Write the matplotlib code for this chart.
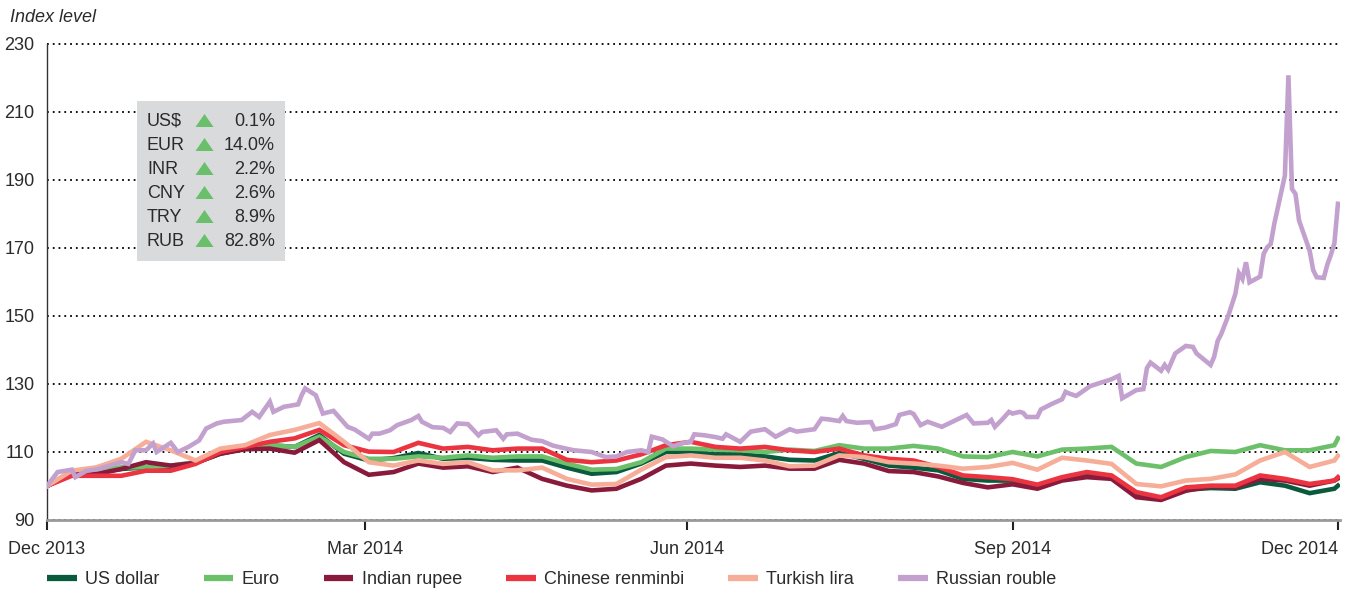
import matplotlib
matplotlib.use('Agg')
import matplotlib.pyplot as plt
import pandas as pd
from matplotlib.lines import Line2D
from matplotlib.patches import Rectangle

plt.rcParams['font.family'] = ['Liberation Sans', 'DejaVu Sans']

# ---------------- data ----------------
weekly_dates = list(pd.date_range('2013-12-31', periods=53, freq='7D')) + [pd.Timestamp('2014-12-31')]

usd = [100, 104, 104, 105, 105.5, 105.7, 106.8, 109.5, 111, 112, 111.5, 115, 109.5, 107.5,
       108.2, 109.7, 108, 108.3, 107.7, 107.5, 107.5, 105.4, 103.6, 104.1, 106.6, 110, 110,
       109.3, 109.3, 108.7, 107.7, 107.5, 109.7, 108, 106, 105.4, 104.6, 102.1, 101.6, 101.6,
       99.7, 102.1, 103.1, 102.6, 97.2, 96.2, 98.9, 99.4, 99.2, 101.1, 100.1, 97.9, 99.2, 100.1]
eur = [100, 104.3, 104.5, 105.5, 105.5, 106, 107, 109.8, 111, 112, 111.5, 114.5, 110, 108,
       108, 108.7, 108.3, 109, 108.3, 108.7, 108.7, 106.6, 104.8, 105, 107, 111, 111,
       110.7, 110.5, 110, 110.7, 110.3, 112, 111, 111, 111.8, 111, 108.7, 108.5, 110,
       108.7, 110.7, 111, 111.5, 106.6, 105.6, 108.5, 110.3, 110, 112, 110.5, 110.5, 112, 114]
inr = [100, 103.5, 103.5, 105, 107, 106, 106.8, 109.5, 110.8, 111, 109.8, 113.5, 107, 103.3,
       104.1, 106.6, 105.4, 105.8, 104.1, 105.4, 102.1, 100.1, 98.7, 99.2, 102.1, 106, 106.6,
       106, 105.6, 106, 105.1, 105.1, 107.7, 106.6, 104.4, 104.1, 102.8, 100.9, 99.6, 100.5,
       99.2, 101.6, 102.6, 102.1, 96.7, 95.9, 98.6, 99.9, 99.6, 102.1, 101.6, 100.1, 101.6, 102.2]
cny = [100, 103, 103, 103, 104.5, 104.5, 106.5, 110, 111.5, 113, 114, 116.5, 112, 110.1,
       110, 112.7, 111, 111.5, 110.5, 111, 111, 107.7, 107, 107.5, 109.3, 112, 113,
       111.5, 111, 111.5, 110.5, 110, 111, 109, 108, 107.5, 105.6, 103.1, 102.6, 102,
       100.4, 102.6, 104.1, 103.1, 98.2, 96.7, 99.6, 100.1, 100.1, 103.1, 102.1, 100.6, 101.6, 102.6]
tr_lira = [100, 104.5, 105.5, 108, 113, 110.5, 107.5, 111, 112, 115, 116.5, 118.5, 113, 107,
           106, 107.5, 106.5, 107, 104.6, 104.6, 105.4, 102.1, 100.4, 100.6, 104.8, 108.5, 109,
           108.3, 108.3, 107.5, 105.8, 106, 109, 108.5, 107, 106.6, 106, 105.1, 105.6, 106.8,
           104.8, 108.3, 107.5, 106.5, 100.6, 99.9, 101.6, 102.1, 103.4, 107.5, 110, 105.6, 107.5, 108.9]

rub_dates = pd.to_datetime([
    '2013-12-31', '2014-01-03', '2014-01-07', '2014-01-08', '2014-01-11', '2014-01-15',
    '2014-01-18', '2014-01-21', '2014-01-23', '2014-01-25', '2014-01-28', '2014-01-30',
    '2014-01-31', '2014-02-04', '2014-02-06', '2014-02-09', '2014-02-12', '2014-02-14',
    '2014-02-17', '2014-02-19', '2014-02-24', '2014-02-27', '2014-03-01', '2014-03-04',
    '2014-03-05', '2014-03-08', '2014-03-12', '2014-03-13', '2014-03-14', '2014-03-17',
    '2014-03-19', '2014-03-22', '2014-03-26', '2014-03-28', '2014-04-01', '2014-04-02',
    '2014-04-04', '2014-04-07', '2014-04-09', '2014-04-13', '2014-04-15', '2014-04-16',
    '2014-04-19', '2014-04-22', '2014-04-24', '2014-04-26', '2014-04-29', '2014-05-02',
    '2014-05-03', '2014-05-07', '2014-05-09', '2014-05-10', '2014-05-13', '2014-05-17',
    '2014-05-20', '2014-05-23', '2014-05-25', '2014-05-29', '2014-06-03', '2014-06-07',
    '2014-06-10', '2014-06-13', '2014-06-17', '2014-06-19', '2014-06-20', '2014-06-23',
    '2014-06-26', '2014-06-29', '2014-07-01', '2014-07-02', '2014-07-05', '2014-07-08',
    '2014-07-10', '2014-07-11', '2014-07-15', '2014-07-18', '2014-07-22', '2014-07-25',
    '2014-07-29', '2014-07-31', '2014-08-05', '2014-08-07', '2014-08-09', '2014-08-12',
    '2014-08-13', '2014-08-14', '2014-08-17', '2014-08-21', '2014-08-22', '2014-08-25',
    '2014-08-28', '2014-08-29', '2014-09-01', '2014-09-02', '2014-09-04', '2014-09-06',
    '2014-09-10', '2014-09-12', '2014-09-17', '2014-09-19', '2014-09-23', '2014-09-24',
    '2014-09-25', '2014-09-27', '2014-09-29', '2014-09-30', '2014-10-02', '2014-10-03',
    '2014-10-04', '2014-10-07', '2014-10-08', '2014-10-11', '2014-10-14', '2014-10-15',
    '2014-10-16', '2014-10-18', '2014-10-22', '2014-10-25', '2014-10-28', '2014-10-30',
    '2014-10-31', '2014-11-04', '2014-11-06', '2014-11-07', '2014-11-08', '2014-11-11',
    '2014-11-12', '2014-11-13', '2014-11-15', '2014-11-18', '2014-11-20', '2014-11-21',
    '2014-11-25', '2014-11-26', '2014-11-27', '2014-11-28', '2014-11-30', '2014-12-02',
    '2014-12-03', '2014-12-04', '2014-12-05', '2014-12-06', '2014-12-09', '2014-12-10',
    '2014-12-11', '2014-12-12', '2014-12-13', '2014-12-16', '2014-12-17', '2014-12-18',
    '2014-12-19', '2014-12-20', '2014-12-23', '2014-12-24', '2014-12-25', '2014-12-27',
    '2014-12-28', '2014-12-29', '2014-12-30', '2014-12-31'])
rub = [100, 104.1, 104.8, 102.6, 104.4, 105.1,
       106.1, 107, 106.5, 110.5, 110.5, 112.5,
       110, 112.7, 110, 111.5, 113.4, 116.9,
       118.4, 118.9, 119.4, 121.8, 120.3, 124.8,
       121.8, 123.3, 124, 126.7, 128.7, 126.7,
       121.3, 122.1, 117.4, 116.6, 113.9, 115.4,
       115.4, 116.4, 117.9, 119.4, 120.6, 118.9,
       117.3, 117.1, 115.9, 118.4, 118.2, 114.9,
       115.9, 116.4, 113.9, 115.2, 115.4, 113.6,
       113.2, 111.9, 111.4, 110.5, 110, 108.5,
       108.7, 110, 110.5, 110, 114.5, 113.7,
       111.7, 112.7, 113, 115.2, 114.9, 114.4,
       113.9, 115.2, 113, 116, 116.7, 114.5,
       116.7, 116, 116.7, 119.8, 119.6, 119.1,
       120.6, 119.1, 118.6, 118.8, 116.7, 117.2,
       118.2, 120.9, 121.7, 121.2, 117.9, 118.9,
       117.4, 118.4, 120.9, 118.4, 118.6, 119.4,
       117.4, 119.5, 121.8, 121.3, 121.8, 121.5,
       120.3, 120.3, 122.5, 124.1, 125.5, 127.7,
       127.2, 126.5, 129.4, 130.4, 131.4, 132.4,
       125.8, 128.2, 128.5, 134.7, 136.3, 133.9,
       135.6, 134.2, 139, 141.2, 140.9, 139,
       135.6, 138, 142.7, 144.7, 150.1, 156.5,
       162.6, 160.9, 165.8, 159.9, 161.6, 168.3,
       170.2, 171.2, 177.1, 191.3, 220.8, 187.4,
       185.9, 178.1, 169.2, 163.5, 161.4, 161.2,
       165.1, 168, 171.4, 183]

series_names = ['US dollar', 'Euro', 'Indian rupee', 'Chinese renminbi', 'Turkish lira', 'Russian rouble']
series_colors = ['#0a5a3e', '#6cc06a', '#8a1a3c', '#ec3340', '#f6ae98', '#c3a1ce']

inset_codes = ['US$', 'EUR', 'INR', 'CNY', 'TRY', 'RUB']
inset_changes = [0.1, 14.0, 2.2, 2.6, 8.9, 82.8]

y_ticks = [90, 110, 130, 150, 170, 190, 210, 230]
x_tick_dates = pd.to_datetime(['2013-12-31', '2014-03-31', '2014-06-30', '2014-09-30', '2014-12-31'])
x_tick_labels = ['Dec 2013', 'Mar 2014', 'Jun 2014', 'Sep 2014', 'Dec 2014']

# ---------------- plot ----------------
W, H = 1354, 591
fig = plt.figure(figsize=(W / 100, H / 100), dpi=100)
ax = fig.add_axes([47 / W, 1 - 520 / H, 1293 / W, 476 / H])

txt_color = '#2b2b2b'
lw = 3.3
all_series = [(weekly_dates, usd), (weekly_dates, eur), (weekly_dates, inr),
              (weekly_dates, cny), (weekly_dates, tr_lira), (rub_dates, rub)]
for (xs, ys), name, col in zip(all_series, series_names, series_colors):
    ax.plot(xs, ys, color=col, lw=lw, label=name, solid_joinstyle='miter', zorder=3)

ax.set_ylim(90, 230)
ax.set_xlim(pd.Timestamp('2013-12-31'), pd.Timestamp('2014-12-31 14:00'))
ax.set_yticks(y_ticks)
ax.set_yticklabels([str(v) for v in y_ticks])
ax.set_xticks(x_tick_dates)
ax.set_xticklabels(x_tick_labels)
last_lbl = ax.get_xticklabels()[-1]
last_lbl.set_horizontalalignment('right')

ax.yaxis.grid(True, linestyle=(0, (1, 2.2)), color='black', lw=1.3)
for gl in ax.get_ygridlines():
    gl.set_clip_on(False)
ax.set_axisbelow(True)

for s in ['top', 'right']:
    ax.spines[s].set_visible(False)
ax.spines['left'].set_color('#333333')
ax.spines['left'].set_linewidth(1.0)
ax.spines['bottom'].set_color('#9a9a9a')
ax.spines['bottom'].set_linewidth(2.0)
ax.spines['bottom'].set_zorder(4)

ax.tick_params(axis='y', length=0, pad=9, labelsize=13, labelcolor=txt_color)
ax.tick_params(axis='x', direction='out', length=7, width=1.5, color='#222222',
               pad=8, labelsize=13, labelcolor=txt_color)

fig.text(10 / W, 1 - 17 / H, 'Index level', fontsize=13, style='italic',
         color=txt_color, ha='left', va='center')

# inset box
ax.add_patch(Rectangle((0.0696, 0.5441), 0.1145, 0.3361, transform=ax.transAxes,
                       facecolor='#d9dadb', edgecolor='none', zorder=5))
row_y0 = 0.8382
row_step = 24 / 476
tri = [(-1, -0.72), (1, -0.72), (0, 0.72)]
for i, (code, chg) in enumerate(zip(inset_codes, inset_changes)):
    yy = row_y0 - i * row_step
    ax.text(0.0773, yy, code, transform=ax.transAxes, fontsize=13, color=txt_color,
            ha='left', va='center', zorder=6)
    ax.plot([0.1214], [yy + 0.002], marker=tri, ms=13, color='#6abf6a', mec='none',
            transform=ax.transAxes, zorder=6, clip_on=False)
    ax.text(0.1763, yy, f'{chg:.1f}%', transform=ax.transAxes, fontsize=13,
            color=txt_color, ha='right', va='center', zorder=6)

# legend
handles = [Line2D([0], [0], color=c, lw=4.5, solid_capstyle='butt') for c in series_colors]
fig.legend(handles, series_names, loc='center left', bbox_to_anchor=(47 / W, 11 / H),
           ncol=6, frameon=False, fontsize=13, handlelength=1.65, handletextpad=0.45,
           columnspacing=2.45, borderpad=0, borderaxespad=0, labelcolor=txt_color)

fig.savefig('out.png', dpi=100)
